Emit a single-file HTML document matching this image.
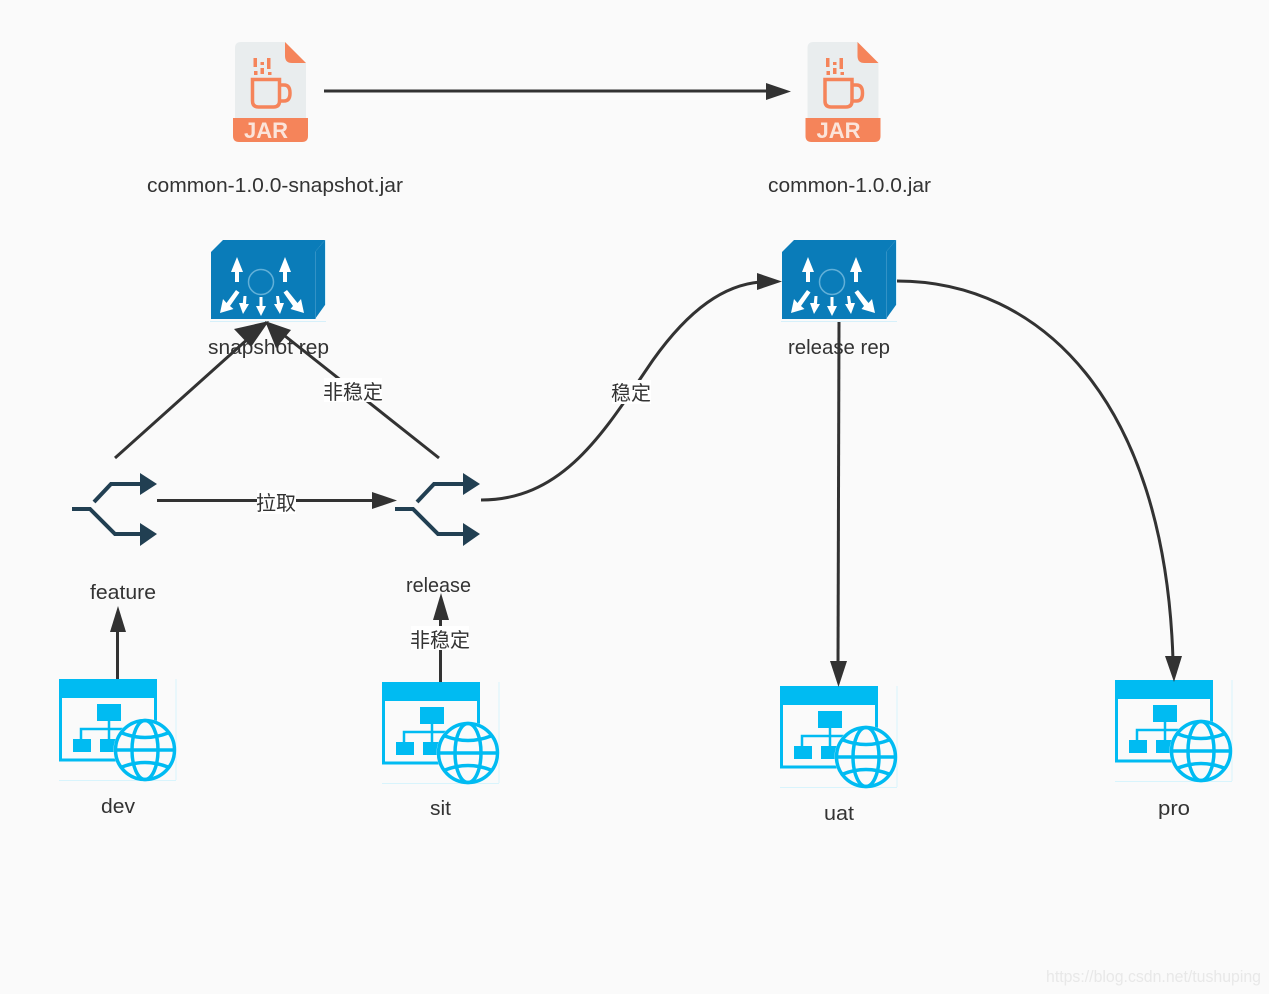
<!DOCTYPE html>
<html><head><meta charset="utf-8">
<style>
html,body{margin:0;padding:0;background:#fafafa;width:1269px;height:994px;overflow:hidden}
svg{display:block}
text{font-family:"Liberation Sans","Noto Sans CJK SC",sans-serif;fill:#333;font-size:20px}
.c{stroke:#323232;stroke-width:3;fill:none}
.h{fill:#323232}
.lb{fill:#fff}
</style></head><body>
<svg width="1269" height="994" viewBox="0 0 1269 994" xmlns="http://www.w3.org/2000/svg">
<rect width="1269" height="994" fill="#fafafa"/>
<defs>
<g id="jar">
<path d="M241 42H285L306 63V120H235V48Q235 42 241 42Z" fill="#e9edee"/>
<path d="M285 42L306 63H292Q285 63 285 56Z" fill="#f5845a"/>
<path d="M233 118H308V136Q308 142 302 142H239Q233 142 233 136Z" fill="#f5845a"/>
<g fill="none" stroke="#f5845a" stroke-width="3.500">
<path d="M252.500 79.500H279.500V101Q279.500 107 273.500 107H258.500Q252.500 107 252.500 101Z"/>
<path d="M280 85H284Q290 85 290 93T284 101H280"/>
</g>
<g fill="#f5845a">
<rect x="253.500" y="58" width="3.500" height="9"/><rect x="254" y="71" width="3.500" height="4"/>
<rect x="260.500" y="62" width="3.500" height="3"/><rect x="260.500" y="68" width="3.500" height="6"/>
<rect x="267" y="58" width="3.500" height="11"/><rect x="268" y="72" width="3.500" height="3"/>
</g>
</g>
<g id="gw">
<path d="M210 321.500H326M325.500 240V305" stroke="#d6f0fa" stroke-width="1" fill="none"/>
<path d="M211 252L223 240H325L315 252Z" fill="#0a7cb9"/>
<path d="M315 252L325 240V305L315 319Z" fill="#0a7cb9"/>
<path d="M315 252V319" stroke="#3f9acb" stroke-width="1.500"/>
<rect x="211" y="252" width="104" height="67" fill="#0a7cb9"/>
<circle cx="261" cy="282" r="12.500" fill="none" stroke="#62b0d8" stroke-width="1.500"/>
<g fill="#fff">
<path d="M237 257L243 272H239V282H235V272H231Z"/>
<path d="M285 257L291 272H287V282H283V272H279Z"/>
<path d="M261 316L256 306H259.500V297H262.500V306H266Z"/>
<path d="M243 314L239 303H242.800L243.500 296H246.500L246 304H249Z"/>
<path d="M280 314L274 304H277L276 296H279L280 303H284Z"/>
<path d="M220 313L223 299L226.500 303L236 290L239.500 292.500L230 306L233.500 309Z"/>
<path d="M304 313L301 299L297.500 303L287 290L283.500 292.500L293 306L290.500 309Z"/>
</g>
</g>
<g id="br">
<g fill="none" stroke="#213f52" stroke-width="4">
<path d="M72 509H90L115 534H142"/>
<path d="M94 502L111 484H142"/>
</g>
<path d="M140 473L157 484L140 495Z" fill="#213f52"/>
<path d="M140 523L157 534L140 546Z" fill="#213f52"/>
</g>
<g id="web">
<path d="M59 780.500H176M176 679V780" stroke="#d8f4fc" stroke-width="1" fill="none"/>
<rect x="60.500" y="690" width="95" height="70" fill="none" stroke="#00bbf2" stroke-width="3"/>
<rect x="59" y="679" width="98" height="19" fill="#00bbf2"/>
<rect x="97" y="704" width="24" height="17" fill="#00bbf2"/>
<rect x="73" y="739" width="18" height="13" fill="#00bbf2"/>
<rect x="100" y="739" width="18" height="13" fill="#00bbf2"/>
<path d="M109 721V739M81 739V729H125" fill="none" stroke="#00bbf2" stroke-width="2.500"/>
<circle cx="145" cy="750" r="31.500" fill="#fafafa"/>
<g fill="none" stroke="#00bbf2" stroke-width="3.500">
<circle cx="145" cy="750" r="29.500"/>
<ellipse cx="145" cy="750" rx="13" ry="29.500"/>
<path d="M115.500 750H174.500M122 733Q145 742 168 733M122 767Q145 758 168 767"/>
</g>
</g>
</defs>

<use href="#jar"/>
<text x="244" y="138" style="font-size:22px;font-weight:bold;fill:#fbe4da">JAR</text>
<use href="#jar" x="572.500"/>
<text x="816.500" y="138" style="font-size:22px;font-weight:bold;fill:#fbe4da">JAR</text>

<use href="#gw"/>
<use href="#gw" x="571"/>
<use href="#br"/>
<use href="#br" x="323"/>
<use href="#web"/>
<use href="#web" x="323" y="3"/>
<use href="#web" x="721" y="7"/>
<use href="#web" x="1056" y="1"/>

<!-- connectors -->
<path class="c" d="M324 91H768"/>
<path class="h" d="M766 83L791 91.500L766 100Z"/>

<path class="c" d="M115 458L250 337"/>
<path class="h" d="M269 321L251 347L234 329Z"/>
<path class="c" d="M439 458L285 336"/>
<path class="h" d="M265 321L291 330L276 348Z"/>

<path class="c" d="M157 500.500H375"/>
<path class="h" d="M372 492L397 500.500L372 509Z"/>

<path class="c" d="M481 500C565 500 605 430 653 360C690 308 725 285 760 282"/>
<path class="h" d="M757 273L782 281.500L757 290Z"/>

<path class="c" d="M839 322L838 665"/>
<path class="h" d="M830 661H847L838.500 687Z"/>

<path class="c" d="M897 281C1040 281 1165 400 1173 660"/>
<path class="h" d="M1165 656H1182L1174 682Z"/>

<path class="c" d="M117.500 679V628"/>
<path class="h" d="M110 632L118 606L126 632Z"/>
<path class="c" d="M440.500 682V616"/>
<path class="h" d="M433 620L441 593L449 620Z"/>

<!-- edge labels -->
<rect x="324" y="378" width="58" height="24" class="lb"/>
<text x="323" y="399">非稳定</text>
<rect x="612" y="380" width="39" height="24" class="lb"/>
<text x="611" y="400">稳定</text>
<rect x="257" y="490" width="39" height="24" class="lb"/>
<text x="256" y="510">拉取</text>
<rect x="411" y="626" width="58" height="24" class="lb"/>
<text x="410" y="647">非稳定</text>

<!-- node labels -->
<text x="147" y="192" textLength="256" lengthAdjust="spacingAndGlyphs">common-1.0.0-snapshot.jar</text>
<text x="768" y="192" textLength="163" lengthAdjust="spacingAndGlyphs">common-1.0.0.jar</text>
<text x="208" y="354" textLength="121" lengthAdjust="spacingAndGlyphs">snapshot rep</text>
<text x="788" y="354" textLength="102" lengthAdjust="spacingAndGlyphs">release rep</text>
<text x="90" y="599" textLength="66" lengthAdjust="spacingAndGlyphs">feature</text>
<text x="406" y="592" textLength="65" lengthAdjust="spacingAndGlyphs">release</text>
<text x="101" y="813" textLength="34" lengthAdjust="spacingAndGlyphs">dev</text>
<text x="430" y="815" textLength="21" lengthAdjust="spacingAndGlyphs">sit</text>
<text x="824" y="820" textLength="30" lengthAdjust="spacingAndGlyphs">uat</text>
<text x="1158" y="815" textLength="32" lengthAdjust="spacingAndGlyphs">pro</text>

<text x="1046" y="982" style="font-size:17px;fill:#e8e8e8" textLength="215" lengthAdjust="spacingAndGlyphs">https://blog.csdn.net/tushuping</text>
</svg>
</body></html>
